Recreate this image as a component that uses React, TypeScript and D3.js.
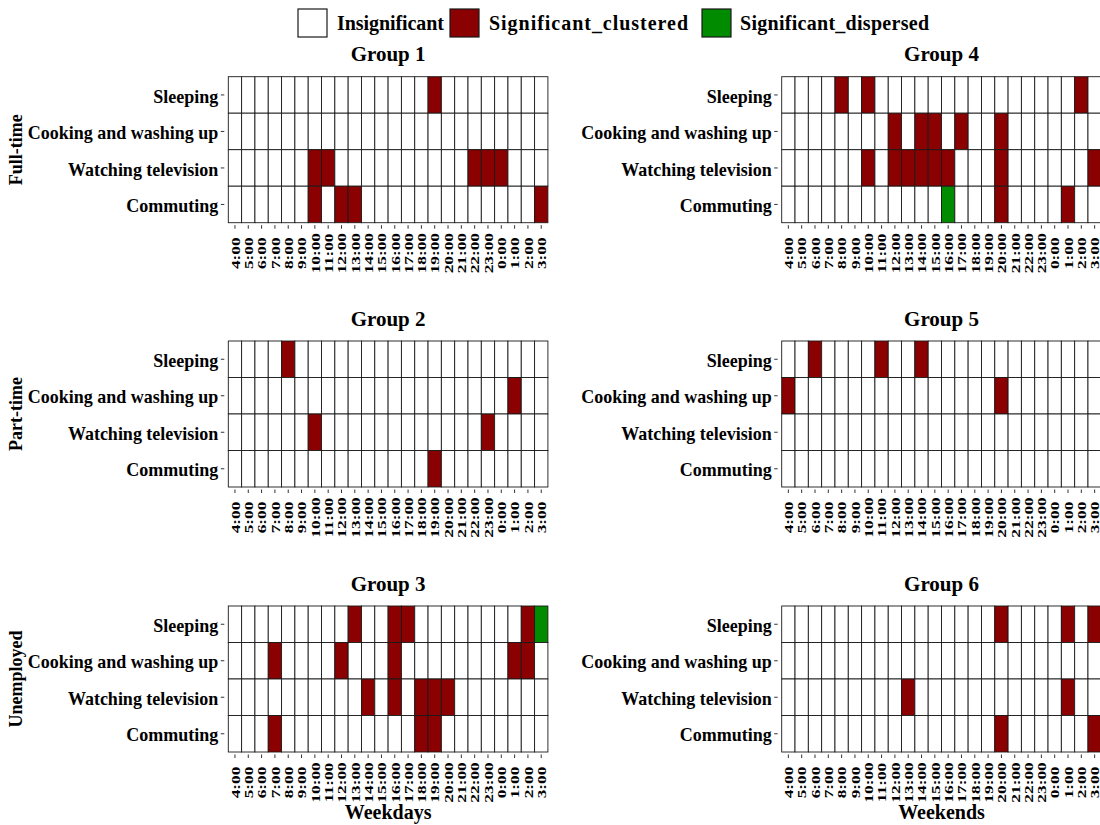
import React from "react";
import * as d3 from "d3";

const hours = ["4:00","5:00","6:00","7:00","8:00","9:00","10:00","11:00","12:00","13:00","14:00","15:00","16:00","17:00","18:00","19:00","20:00","21:00","22:00","23:00","0:00","1:00","2:00","3:00"];
const activities = ["Sleeping","Cooking and washing up","Watching television","Commuting"];
const rowLabels = ["Full-time","Part-time","Unemployed"];
const colLabels = ["Weekdays","Weekends"];
const legendLabels = ["Insignificant","Significant_clustered","Significant_dispersed"];
const legendKeys = ["insignificant","clustered","dispersed"];

type Cell = [string, string, string];

const group1: Cell[] = [
  ["Sleeping","19:00","clustered"],
  ["Watching television","10:00","clustered"],["Watching television","11:00","clustered"],
  ["Watching television","22:00","clustered"],["Watching television","23:00","clustered"],["Watching television","0:00","clustered"],
  ["Commuting","10:00","clustered"],["Commuting","12:00","clustered"],["Commuting","13:00","clustered"],["Commuting","3:00","clustered"],
];
const group2: Cell[] = [
  ["Sleeping","8:00","clustered"],
  ["Cooking and washing up","1:00","clustered"],
  ["Watching television","10:00","clustered"],["Watching television","23:00","clustered"],
  ["Commuting","19:00","clustered"],
];
const group3: Cell[] = [
  ["Sleeping","13:00","clustered"],["Sleeping","16:00","clustered"],["Sleeping","17:00","clustered"],["Sleeping","2:00","clustered"],["Sleeping","3:00","dispersed"],
  ["Cooking and washing up","7:00","clustered"],["Cooking and washing up","12:00","clustered"],["Cooking and washing up","16:00","clustered"],
  ["Cooking and washing up","1:00","clustered"],["Cooking and washing up","2:00","clustered"],
  ["Watching television","14:00","clustered"],["Watching television","16:00","clustered"],["Watching television","18:00","clustered"],
  ["Watching television","19:00","clustered"],["Watching television","20:00","clustered"],
  ["Commuting","7:00","clustered"],["Commuting","18:00","clustered"],["Commuting","19:00","clustered"],
];
const group4: Cell[] = [
  ["Sleeping","8:00","clustered"],["Sleeping","10:00","clustered"],["Sleeping","2:00","clustered"],
  ["Cooking and washing up","12:00","clustered"],["Cooking and washing up","14:00","clustered"],["Cooking and washing up","15:00","clustered"],
  ["Cooking and washing up","17:00","clustered"],["Cooking and washing up","20:00","clustered"],
  ["Watching television","10:00","clustered"],["Watching television","12:00","clustered"],["Watching television","13:00","clustered"],
  ["Watching television","14:00","clustered"],["Watching television","15:00","clustered"],["Watching television","16:00","clustered"],
  ["Watching television","20:00","clustered"],["Watching television","3:00","clustered"],
  ["Commuting","16:00","dispersed"],["Commuting","20:00","clustered"],["Commuting","1:00","clustered"],
];
const group5: Cell[] = [
  ["Sleeping","6:00","clustered"],["Sleeping","11:00","clustered"],["Sleeping","14:00","clustered"],
  ["Cooking and washing up","4:00","clustered"],["Cooking and washing up","20:00","clustered"],
];
const group6: Cell[] = [
  ["Sleeping","20:00","clustered"],["Sleeping","1:00","clustered"],["Sleeping","3:00","clustered"],
  ["Watching television","13:00","clustered"],["Watching television","1:00","clustered"],
  ["Commuting","20:00","clustered"],["Commuting","3:00","clustered"],
];

const groupTitles = ["Group 1","Group 2","Group 3","Group 4","Group 5","Group 6"];
const groupCells = [group1, group2, group3, group4, group5, group6];

const colors: Record<string, string> = { insignificant: "#FFFFFF", clustered: "#8B0000", dispersed: "#008B00" };

const FONT = "'Liberation Serif', 'Times New Roman', serif";
const W = 1100, H = 825;
const panelW = 319.6, panelH = 146;
const panelX = [228.3, 781.7];
const panelY = [76.7, 341, 606];

function Panel({ x0, y0, cells, title }: { x0: number; y0: number; cells: Cell[]; title: string }) {
  const x = d3.scaleBand<string>().domain(hours).range([x0, x0 + panelW]).padding(0);
  const y = d3.scaleBand<string>().domain(activities).range([y0, y0 + panelH]).padding(0);
  const lookup = new Map<string, string>();
  cells.forEach(([a, h, s]) => lookup.set(a + "|" + h, s));
  const all: { a: string; h: string; s: string }[] = [];
  activities.forEach(a => hours.forEach(h => all.push({ a, h, s: lookup.get(a + "|" + h) || "insignificant" })));
  return (
    <g>
      <text x={x0 + panelW / 2} y={y0 - 15.5} textAnchor="middle" fontFamily={FONT} fontWeight="bold" fontSize={21}>{title}</text>
      {all.map((c, i) => (
        <rect key={i} x={x(c.h)!} y={y(c.a)!} width={x.bandwidth()} height={y.bandwidth()}
          fill={colors[c.s]} stroke="#1a1a1a" strokeWidth={0.9} />
      ))}
      {activities.map(a => {
        const cy = y(a)! + y.bandwidth() / 2;
        return (
          <g key={a}>
            <line x1={x0 - 7.5} x2={x0 - 4} y1={cy} y2={cy} stroke="#333" strokeWidth={1} />
            <text transform={`translate(${x0 - 10},${cy + 1}) scale(1,1.08)`} textAnchor="end" dominantBaseline="central"
              fontFamily={FONT} fontWeight="bold" fontSize={18}>{a}</text>
          </g>
        );
      })}
      {hours.map(h => {
        const cx = x(h)! + x.bandwidth() / 2;
        const by = y0 + panelH;
        return (
          <g key={h}>
            <line x1={cx} x2={cx} y1={by + 2.5} y2={by + 6} stroke="#333" strokeWidth={1} />
            <text transform={`translate(${cx},${by + 30.5}) rotate(-90) scale(1.28,1)`} textAnchor="middle" dominantBaseline="central"
              fontFamily={FONT} fontWeight="bold" fontSize={13.5}>{h}</text>
          </g>
        );
      })}
    </g>
  );
}

export default function App() {
  const legendX = [298, 450, 702];
  const legendTextX = [337, 489, 740];
  const legendTextLen = [107, 199, 189];
  return (
    <svg width={W} height={H} viewBox={`0 0 ${W} ${H}`} style={{ position: "absolute", left: 0, top: 0, background: "#fff" }}>
      <rect x={0} y={0} width={W} height={H} fill="#fff" />
      {legendKeys.map((k, i) => (
        <g key={k}>
          <rect x={legendX[i]} y={9} width={29} height={28} fill={colors[k]} stroke="#1a1a1a" strokeWidth={1.2} />
          <text x={legendTextX[i]} y={23} dominantBaseline="central" fontFamily={FONT} fontWeight="bold" fontSize={20}
            textLength={legendTextLen[i]} lengthAdjust="spacing">{legendLabels[i]}</text>
        </g>
      ))}
      {[0, 1].map(c => [0, 1, 2].map(r => (
        <Panel key={c * 3 + r} x0={panelX[c]} y0={panelY[r]} cells={groupCells[c * 3 + r]} title={groupTitles[c * 3 + r]} />
      )))}
      {rowLabels.map((l, r) => (
        <text key={l} transform={`translate(16,${panelY[r] + panelH / 2}) rotate(-90)`} textAnchor="middle" dominantBaseline="central"
          fontFamily={FONT} fontWeight="bold" fontSize={18}>{l}</text>
      ))}
      {colLabels.map((l, c) => (
        <text key={l} x={panelX[c] + panelW / 2} y={819} textAnchor="middle" fontFamily={FONT} fontWeight="bold" fontSize={20}>{l}</text>
      ))}
    </svg>
  );
}
